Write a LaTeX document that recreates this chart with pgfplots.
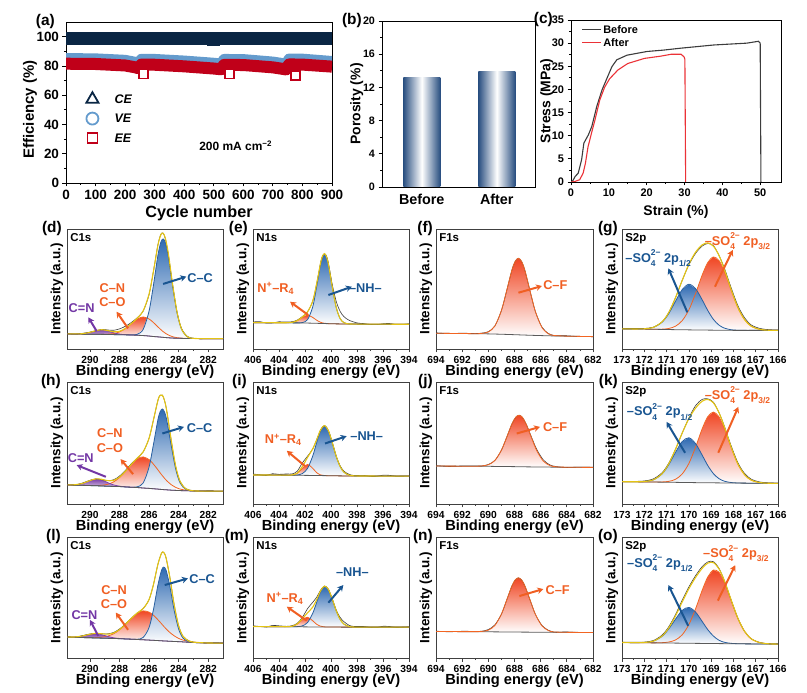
\documentclass[border=0pt]{standalone}
\usepackage{fontspec}
\setmainfont{Liberation Sans}
\usepackage{pgfplots}
\pgfplotsset{compat=1.18}
\usepackage{pgfplotstable}
\usetikzlibrary{arrows.meta}
\newcommand{\fs}[1]{\fontsize{#1}{#1}\selectfont\bfseries}

\definecolor{cblue}{RGB}{45,105,178}
\definecolor{cblueline}{RGB}{40,95,160}
\definecolor{cred}{RGB}{240,70,35}
\definecolor{credline}{RGB}{242,101,34}
\definecolor{cpur}{RGB}{125,65,170}
\definecolor{cenv}{RGB}{228,196,20}
\definecolor{cbg}{RGB}{90,90,90}
\definecolor{craw}{RGB}{60,60,60}
\definecolor{tblue}{RGB}{25,85,145}
\definecolor{torange}{RGB}{240,95,35}
\definecolor{tpur}{RGB}{115,55,165}
\definecolor{ce}{RGB}{10,38,68}
\definecolor{ve}{RGB}{100,155,205}
\definecolor{ee}{RGB}{192,0,25}
\definecolor{barblue}{RGB}{40,78,128}
\definecolor{cbefore}{RGB}{60,60,60}
\definecolor{cafter}{RGB}{235,50,55}

\tikzset{arr/.style={-{Stealth[length=6bp,width=6.5bp]}, line width=2bp},
  lab/.style={font=\fs{12.8}, inner sep=0pt},
  ttl/.style={font=\fs{11.5}, inner sep=0pt, anchor=north west},
  plab/.style={font=\fs{15.5}, inner sep=0pt, anchor=east}}

\pgfplotsset{
 xps/.style={anchor=south west, scale only axis, x dir=reverse, ymin=0, ymax=100, ytick=\empty,
   xtick pos=left, tick align=outside, major tick length=3.5bp, minor tick length=2bp, minor x tick num=1,
   axis line style={line width=0.8bp, draw=black!75}, tick style={line width=0.7bp, draw=black!75},
   tick label style={font=\fs{10.3}},
   xlabel={Binding energy (eV)}, ylabel={Intensity (a.u.)},
   every axis x label/.style={at={([yshift=-22.5bp]axis description cs:0.5,0)}, anchor=center, font=\fs{14.7}},
   every axis y label/.style={at={([xshift=-10bp]axis description cs:0,0.5)}, rotate=90, anchor=center, font=\fs{13.5}},
   /pgf/number format/assume math mode=true, /pgf/number format/1000 sep={}},
 lc/.style={smooth, draw=#1, line width=0.8bp, forget plot},
 bgl/.style={cbg, line width=0.8bp, forget plot},
 rawl/.style={smooth, craw, line width=0.6bp, forget plot},
 envl/.style={smooth, cenv, line width=1.1bp, forget plot},
}
% stacked fill between background and background+component
\newcommand{\bgpath}[1]{\addplot[stack plots=y, draw=none, forget plot] table[x=x,y=bg]{#1};}
\newcommand{\cfl}[3]{%
 \addplot[stack plots=y, draw=none, top color=#3, bottom color=white, forget plot] table[x=x,y=#2]{#1} \closedcycle;
 \addplot[stack plots=y, draw=none, forget plot] table[x=x,y expr=-\thisrow{#2}]{#1};}
\newcommand{\cln}[3]{\addplot[lc=#3] table[x=x,y expr=\thisrow{bg}+\thisrow{#2}]{#1};}
\newcommand{\fin}[2]{%
 \addplot[bgl] table[x=x,y=bg]{#1};
 \addplot[rawl] table[x=x,y expr=#2+\thisrow{r}]{#1};
 \addplot[envl] table[x=x,y expr=#2]{#1};}

% ---------------- data ----------------
\pgfplotstableread{
x bg a b c r
291.5 12.6 0 0 0 0.2
291.0 12.5 0.04 0 0 -0.2
290.5 12.4 0.35 0 0 0.3
290.0 12.3 1.54 0 0 0.2
289.6 12.25 3.03 0.01 0 -0.3
289.2 12.2 3.8 0.06 0 0.2
288.8 12.1 3.03 0.24 0 0.5
288.4 12.0 1.54 0.84 0 1.2
288.0 11.9 0.50 2.36 0 2.0
287.6 11.8 0.10 5.25 0 1.8
287.2 11.7 0.01 9.4 0.07 0.9
286.8 11.45 0 13.5 0.78 0.3
286.4 11.2 0 15.5 5.1 -0.3
286.0 10.8 0 14.2 20.8 -0.5
285.7 10.4 0 11.6 43.1 0
285.4 10.1 0 8.3 68.1 0.5
285.2 9.9 0 6.2 79.2 0.3
285.05 9.7 0 4.8 82 0
284.9 9.55 0 3.6 79.2 -0.4
284.7 9.35 0 2.36 68.1 -0.8
284.4 9.1 0 1.11 43.1 -0.6
284.1 8.95 0 0.47 20.8 0
283.8 8.85 0 0.17 7.6 0.4
283.4 8.75 0 0.04 1.3 0.3
283.0 8.7 0 0 0.14 0.1
282.5 8.65 0 0 0 -0.1
282.0 8.6 0 0 0 0.1
281.0 8.6 0 0 0 0
}\Td
\pgfplotstableread{
x bg a b r
406 22.0 0 0 0.5
405.5 21.97 0 0 0.9
405 21.95 0 0 -0.3
404.5 21.92 0 0 -0.2
404 21.9 0 0 0.8
403.5 21.85 0.03 0 0.6
403 21.8 0.41 0 0.5
402.6 21.75 1.89 0 0.4
402.2 21.7 4.78 0.34 0.2
401.8 21.6 6.5 2.9 0
401.4 21.5 4.78 13.8 0
401.1 21.4 2.55 30.6 0
400.8 21.3 0.95 49.5 0
400.65 21.25 0.51 55.7 0
400.5 21.2 0.24 58 0
400.35 21.15 0.12 55.7 0.5
400.2 21.1 0.05 49.5 1
399.9 21.0 0 30.6 2
399.6 20.95 0 13.8 5
399.3 20.9 0 4.5 6
399.0 20.85 0 1.07 5
398.6 20.8 0 0.1 3
398 20.75 0 0 1
397.5 20.7 0 0 0.5
397 20.7 0 0 -0.2
396.5 20.7 0 0 -0.4
396 20.7 0 0 0.3
395.5 20.67 0 0 0.6
395 20.65 0 0 -0.3
394.5 20.62 0 0 -0.2
394 20.6 0 0 0.4
}\Te
\pgfplotstableread{
x bg a r
694 13.1 0 0.3
693 13.0 0 -0.2
692 12.9 0 0.3
691 12.75 0 0.1
690.5 12.7 0.28 0.3
690 12.6 1.63 0.2
689.5 12.45 6.76 0
689 12.3 19.8 0
688.6 12.15 36.4 0
688.2 12.0 53.7 0
687.95 11.9 61.1 0
687.7 11.8 63.8 0
687.45 11.7 61.1 0
687.2 11.6 53.7 0
686.8 11.45 36.4 0
686.4 11.3 19.8 0
685.9 11.15 6.76 0.3
685.4 11.0 1.63 0.2
685 10.9 0.41 -0.2
684 10.7 0 0.3
683 10.5 0 -0.2
682 10.3 0 0.1
}\Tf
\pgfplotstableread{
x bg a b r
173 16.8 0 0 0.2
172.5 16.7 0 0 0.4
172 16.6 0 0.24 0.3
171.6 16.45 0 1.5 0.2
171.2 16.3 0.24 6.1 0
170.9 16.2 0.9 13.4 0
170.6 16.1 2.9 23.7 0
170.3 16.0 7.6 33.5 0
170.0 15.95 16.6 38 -0.5
169.7 15.85 30.3 34.5 -1
169.4 15.8 45.9 25.1 -1
169.15 15.75 56.3 16.3 -0.5
168.9 15.7 61 9.0 0.5
168.65 15.65 58.1 4.3 0
168.4 15.6 48.7 1.75 1
168.1 15.55 33.4 0.49 1.5
167.8 15.5 19.0 0.11 1.5
167.5 15.5 9.0 0 1.5
167.2 15.5 3.5 0 1
166.8 15.5 0.77 0 0.8
166.4 15.5 0.12 0 0.5
166 15.5 0 0 0.3
}\Tg
\pgfplotstableread{
x bg a b c r
291.5 15.6 0.04 0 0 0.2
291.0 15.45 0.34 0 0 -0.2
290.5 15.3 1.6 0 0 0.3
290.0 15.1 4.04 0.05 0 0.2
289.6 14.95 5.43 0.18 0 0
289.2 14.75 4.92 0.58 0 -0.3
288.8 14.55 3.0 1.59 0 0
288.4 14.4 1.24 3.7 0 0.5
288.0 14.3 0.34 7.4 0 0.8
287.6 14.0 0.06 12.75 0 0.8
287.2 13.75 0 18.7 0 0.5
286.8 13.5 0 23.6 0.57 0
286.4 13.1 0 25.5 4.1 0
286.0 12.8 0 23.6 17.5 0
285.7 12.5 0 20.1 36.5 0
285.4 12.2 0 15.8 57.0 0
285.25 12.0 0 13.5 63.6 0
285.1 11.9 0 11.3 66 0
284.95 11.7 0 9.3 63.6 0
284.8 11.6 0 7.4 57.0 0
284.5 11.35 0 4.5 36.5 -0.5
284.2 11.15 0 2.5 17.5 -0.5
283.9 11.0 0 1.25 6.2 0
283.5 10.85 0 0.45 1.0 0.2
283.0 10.7 0 0.1 0 0.1
282.5 10.6 0 0 0 -0.1
282.0 10.55 0 0 0 0.1
281.0 10.5 0 0 0 0
}\Th
\pgfplotstableread{
x bg a b r
406 23.8 0 0 0.8
405.5 23.77 0 0 0.2
405 23.75 0 0 -0.4
404.5 23.72 0 0 1.1
404 23.7 0 0 0.6
403.4 23.65 0 0 1.0
403 23.6 0.17 0.03 0.8
402.6 23.55 1.53 0.25 1.5
402.2 23.5 5.78 1.46 3
401.8 23.45 9 5.8 1
401.4 23.4 5.78 16.1 0
401.1 23.35 2.31 27.1 0
400.8 23.3 0.56 36.9 0
400.5 23.25 0.08 41 0
400.2 23.2 0 36.9 0
399.9 23.15 0 27.1 0
399.6 23.1 0 16.1 0
399.3 23.05 0 7.8 0.5
399.0 23.0 0 3.05 0.8
398.6 23.0 0 0.64 0.6
398.2 22.95 0 0.1 0.3
397.5 22.95 0 0 0.5
397 22.93 0 0 -0.3
396.5 22.9 0 0 -0.3
396 22.9 0 0 0.7
395.5 22.9 0 0 0.6
395 22.9 0 0 -0.2
394 22.9 0 0 0
}\Ti
\pgfplotstableread{
x bg a r
694 31.1 0 0.3
693 31.05 0 -0.3
692 31.0 0 0.2
691 30.95 0.04 0.3
690.5 30.92 0.26 0
690 30.9 1.3 0.2
689.5 30.8 4.9 0
689 30.75 13.4 0
688.6 30.7 23.9 0
688.2 30.65 34.9 0
687.9 30.6 40.6 0
687.65 30.55 42.2 0
687.4 30.5 40.6 0
687.1 30.45 34.9 0
686.7 30.4 23.9 0.5
686.3 30.35 13.4 1
685.8 30.3 4.9 1
685.3 30.25 1.3 0.5
684.8 30.2 0.26 0.2
684 30.15 0 -0.2
683 30.05 0 0.2
682 30.0 0 0
}\Tj
\pgfplotstableread{
x bg a b r
173 18.3 0 0 0.2
172.5 18.2 0 0 0.3
172 18.1 0 0.31 0.5
171.6 18.0 0 1.74 0.8
171.2 17.9 0.19 6.8 0.8
170.9 17.8 0.76 14.5 0.5
170.6 17.75 2.5 24.6 0
170.3 17.65 6.95 33.5 0
170.0 17.6 15.6 36.7 0.5
169.7 17.5 29 32.1 2
169.4 17.45 44.3 22.5 1.5
169.15 17.4 54.2 14.1 0.5
168.9 17.35 58 7.6 0.5
168.65 17.3 54.2 3.5 0
168.4 17.25 44.3 1.4 0.5
168.1 17.2 29 0.38 1
167.8 17.15 15.6 0.08 1
167.5 17.1 6.95 0 1
167.2 17.05 2.5 0 0.8
166.8 17.0 0.5 0 0.5
166.4 16.95 0.05 0 0.3
166 16.9 0 0 0.2
}\Tk
\pgfplotstableread{
x bg a b c r
291.5 17.3 0.04 0 0 0.2
291.0 17.1 0.31 0 0 -0.2
290.5 16.9 1.29 0.02 0 0.3
290.0 16.7 2.87 0.09 0 0.2
289.6 16.55 3.5 0.28 0 0
289.2 16.4 2.87 0.76 0 0
288.8 16.25 1.59 1.85 0 0.3
288.4 16.1 0.6 3.9 0 0.5
288.0 16.0 0.15 7.3 0 0.5
287.6 15.75 0.02 12 0 0.3
287.2 15.55 0 17.2 0 0
286.8 15.3 0 21.7 0.2 0
286.4 15.05 0 23.9 1.9 0
286.0 14.8 0 23.1 10.4 0
285.7 14.6 0 20.7 25.6 0
285.4 14.4 0 17.2 45.9 0
285.15 14.2 0 14.0 58.6 0
285.0 14.1 0 12 61 0
284.85 14.0 0 10.1 58.6 0
284.6 13.85 0 7.3 45.9 0
284.3 13.65 0 4.7 25.6 0
284.0 13.5 0 2.7 10.4 0
283.7 13.3 0 1.5 3.1 0
283.3 13.0 0 0.6 0.35 0.2
283.0 12.8 0 0.28 0 0.1
282.5 12.6 0 0.07 0 -0.1
282.0 12.4 0 0 0 0.1
281.0 12.3 0 0 0 0
}\Tl
\pgfplotstableread{
x bg a b r
406 26.0 0 0 0.6
405.5 25.97 0 0 0.1
405 25.95 0 0 -0.4
404.5 25.92 0 0 1.0
404 25.9 0 0 0.7
403.4 25.85 0.03 0 0.3
403 25.8 0.39 0 0.5
402.6 25.8 2.2 0.12 0.5
402.2 25.75 6.0 0.81 1
401.8 25.7 7.95 3.7 3.5
401.4 25.7 5.0 11.4 4
401.1 25.65 2.2 20.4 2
400.8 25.65 0.64 29.3 0.5
400.5 25.6 0.12 33.7 0
400.2 25.6 0 31.1 0
399.9 25.6 0 23.0 0
399.6 25.55 0 13.6 0.5
399.3 25.55 0 6.5 1.5
399.0 25.5 0 2.5 2
398.6 25.5 0 0.48 1
398.2 25.5 0 0.06 0.5
397.5 25.5 0 0 0.5
397 25.5 0 0 -0.2
396.5 25.5 0 0 -0.4
396 25.5 0 0 0.7
395.5 25.5 0 0 0.5
395 25.5 0 0 -0.3
394 25.5 0 0 0.2
}\Tm
\pgfplotstableread{
x bg a r
694 21.9 0 0.3
693 21.85 0 -0.2
692 21.8 0 0.3
691 21.75 0.04 0.2
690.5 21.7 0.26 0.2
690 21.65 1.37 0.5
689.5 21.6 5.3 0.5
689 21.55 14.7 0
688.6 21.5 26.3 0
688.2 21.5 38.0 0
687.95 21.45 43.0 0
687.7 21.45 44.8 0
687.45 21.4 43.0 0
687.2 21.4 38.0 0
686.8 21.35 26.3 0
686.4 21.3 14.7 0
685.9 21.3 5.3 0.3
685.4 21.25 1.37 0.2
685 21.2 0.36 -0.2
684 21.2 0 0.3
683 21.15 0 -0.2
682 21.1 0 0.1
}\Tn
\pgfplotstableread{
x bg a b r
173 12.8 0 0 0.2
172.5 12.7 0 0 0.3
172 12.6 0 0.25 0.3
171.6 12.5 0 1.4 0.5
171.2 12.45 0.22 5.5 0.8
170.9 12.4 0.81 11.7 1
170.6 12.3 2.6 19.8 1.2
170.3 12.25 6.9 27.1 1.5
170.0 12.2 15.4 29.6 1.5
169.7 12.1 28.5 25.9 1.5
169.4 12.05 44.0 18.1 1.5
169.15 12.0 55.0 11.4 1
168.9 11.95 60.7 6.2 0.8
168.65 11.9 59.0 2.8 0.5
168.4 11.85 50.7 1.1 0
168.1 11.8 35.7 0.3 0
167.8 11.75 21.0 0.07 0
167.5 11.7 10.3 0 0
167.2 11.65 4.2 0 0
166.8 11.6 0.97 0 0.2
166.4 11.55 0.16 0 0.1
166 11.5 0 0 0.1
}\To

\newcommand{\ssz}{\fontsize{8.5}{8.5}\selectfont}
\newcommand{\SOs}{\rlap{\raisebox{-0.33em}{\ssz 4}}\raisebox{0.52em}{\ssz 2−}}
\newcommand{\SOh}{–SO\SOs\ 2p\raisebox{-0.33em}{\ssz 1/2}}
\newcommand{\SOt}{–SO\SOs\ 2p\raisebox{-0.33em}{\ssz 3/2}}
\newcommand{\NR}{N\textsuperscript{+}–R\textsubscript{4}}

\begin{document}
\begin{tikzpicture}
\useasboundingbox (0,0) rectangle (807bp,693bp);

% ================= (a) =================
\begin{axis}[name=a, at={(66bp,510bp)}, anchor=south west, scale only axis, width=266bp, height=161bp,
  xmin=0, xmax=900, ymin=0, ymax=110, xtick={0,100,...,900}, ytick={0,20,...,100},
  minor x tick num=1, minor y tick num=1, tick align=outside, xtick pos=left, ytick pos=left,
  major tick length=3.5bp, minor tick length=2bp, axis line style={line width=0.9bp},
  tick style={line width=0.8bp, black}, tick label style={font=\fs{13.5}},
  /pgf/number format/assume math mode=true,
  xlabel={Cycle number}, ylabel={Efficiency (\%)},
  every axis x label/.style={at={([yshift=-30bp]axis description cs:0.5,0)}, anchor=center, font=\fs{16.3}},
  every axis y label/.style={at={([xshift=-36bp,yshift=-7bp]axis description cs:0,0.5)}, rotate=90, anchor=center, font=\fs{15}},
  legend image code/.code={\path (-9bp,0bp) (21bp,0bp); \draw[#1] plot coordinates {(0bp,0bp)};},
  legend style={at={(axis description cs:0.064,0.565)}, anchor=north west, draw=none, fill=none, inner sep=0pt,
     row sep=8bp, font=\fs{12.5}\itshape, nodes={inner sep=1bp, text depth=0pt}},
  legend cell align=left]
\addlegendimage{only marks, mark=triangle, mark size=7bp, ce, mark options={solid, line width=1.8bp}}
\addlegendentry{CE}
\addlegendimage{only marks, mark=o, mark size=6bp, ve, mark options={solid, line width=1.8bp}}
\addlegendentry{VE}
\addlegendimage{only marks, mark=square, mark size=5bp, ee, mark options={solid, line width=1.8bp}}
\addlegendentry{EE}
\addplot[ce, line width=13bp, forget plot] coordinates {(0,98.8) (900,98.8)};
\addplot[ce, line width=6bp, forget plot] coordinates {(478,95.6) (522,95.6)};
\addplot[ve, line width=11bp, line join=round, forget plot] coordinates {(0,85.0) (100,84.8) (200,83.8) (235,82.4) (245,81.8) (255,84.5) (300,84.4) (400,83.3) (500,81.8) (525,81.3) (535,84.4) (600,84.3) (700,82.6) (745,81.2) (755,84.7) (800,84.6) (900,83.0)};
\addplot[only marks, mark=square*, mark size=4.5bp, ee, mark options={fill=white, line width=1.6bp}, forget plot] coordinates {(262,74.6) (554,74.6) (777,73.3)};
\addplot[ee, line width=12bp, line join=round, forget plot] coordinates {(0,81.5) (100,81.3) (200,80.3) (235,79.0) (245,78.4) (255,80.9) (300,80.8) (400,79.7) (500,78.2) (525,77.7) (535,80.7) (600,80.6) (700,79.0) (745,77.6) (755,81.0) (800,80.9) (900,79.5)};
\node[font=\fs{12}] at (axis cs:574,25.5) {200 mA cm\textsuperscript{−2}};
\end{axis}
\node[plab] at ([xshift=-11bp]a.north west) {(a)};

% ================= (b) =================
\begin{axis}[name=b, at={(382bp,506bp)}, anchor=south west, scale only axis, width=153bp, height=166bp,
  xmin=-0.53, xmax=1.51, ymin=0, ymax=20, xtick={0,1}, xticklabels={Before,After}, ytick={0,4,...,20},
  minor y tick num=1, tick align=outside, ytick pos=left, xtick pos=left, xtick style={draw=none},
  major tick length=3.5bp, minor tick length=2bp, axis line style={line width=0.9bp}, tick style={line width=0.8bp, black},
  y tick label style={font=\fs{10.8}}, x tick label style={font=\fs{14.4}},
  /pgf/number format/assume math mode=true, ylabel={Porosity (\%)},
  every axis y label/.style={at={([xshift=-25.3bp]axis description cs:0,0.5)}, rotate=90, anchor=center, font=\fs{14}}]
\addplot[ybar, bar width=37bp, draw=none, left color=barblue, right color=barblue, middle color=white, forget plot] coordinates {(0,13.2)};
\addplot[ybar, bar width=37bp, draw=none, left color=barblue, right color=barblue, middle color=white, forget plot] coordinates {(1,13.95)};
\end{axis}
\node[plab] at ([xshift=-20bp]b.north west) {(b)};

% ================= (c) =================
\begin{axis}[name=c, at={(571bp,511bp)}, anchor=south west, scale only axis, width=210bp, height=162bp,
  xmin=0, xmax=55.5, ymin=0, ymax=35, xtick={0,10,...,50}, ytick={0,5,...,35},
  minor x tick num=1, minor y tick num=1, tick align=outside, xtick pos=left, ytick pos=left,
  major tick length=3.5bp, minor tick length=2bp, axis line style={line width=0.9bp}, tick style={line width=0.8bp, black},
  tick label style={font=\fs{11}}, /pgf/number format/assume math mode=true,
  xlabel={Strain (\%)}, ylabel={Stress (MPa)},
  every axis x label/.style={at={([yshift=-29.7bp]axis description cs:0.5,0)}, anchor=center, font=\fs{14}},
  every axis y label/.style={at={([xshift=-24.3bp]axis description cs:0,0.5)}, rotate=90, anchor=center, font=\fs{14}},
  legend image code/.code={\draw[#1] (0bp,0bp) -- (19bp,0bp);},
  legend style={at={(axis description cs:0.05,0.977)}, anchor=north west, draw=none, fill=none, inner sep=0pt,
     row sep=2bp, font=\fs{11}, nodes={inner sep=1.5bp, text depth=0pt}},
  legend cell align=left]
\addplot[cbefore, line width=1.1bp] coordinates {(0,0) (0.5,0.3) (1.1,1.2) (1.9,1.9) (2.8,4.8) (3.4,8.4) (4.6,10.2) (5.5,12.0) (6.8,16.3) (8.2,19.9) (9.5,22.4) (10.8,24.9) (12.1,26.4) (14.8,27.4) (20.1,28.2) (24.5,28.5) (28.9,28.9) (37.7,29.6) (46.5,30.0) (49.5,30.4) (50.0,30.0) (50.1,15) (50.2,0)};
\addlegendentry{Before}
\addplot[cafter, line width=1.1bp] coordinates {(0,0) (1.0,0.1) (2.3,0.5) (3.2,1.9) (3.8,4.0) (4.5,7.6) (5.4,10.5) (6.3,13.3) (7.6,17.7) (8.9,20.5) (10.2,22.3) (12.4,24.2) (15.0,25.6) (19.4,26.7) (23.8,27.2) (26.5,27.6) (29.1,27.6) (29.9,27.0) (30.1,26.5) (30.2,13) (30.3,0)};
\addlegendentry{After}
\end{axis}
\node[plab] at ([xshift=-18bp]c.north west) {(c)};

% ================= row 1 =================
\begin{axis}[xps, name=d, at={(67bp,344bp)}, width=156bp, height=120bp, xmin=281, xmax=291.55, xtick={282,284,...,290}]
\bgpath{\Td}
\cfl{\Td}{b}{cred}
\cfl{\Td}{c}{cblue}
\cfl{\Td}{a}{cpur}
\cln{\Td}{b}{credline}
\cln{\Td}{c}{cblueline}
\cln{\Td}{a}{cpur}
\fin{\Td}{\thisrow{bg}+\thisrow{a}+\thisrow{b}+\thisrow{c}}
\node[ttl] at (rel axis cs:0.02,0.967) {C1s};
\node[lab, text=tblue] at (axis cs:282.55,58.9) {C–C};
\draw[arr, tblue] (axis cs:285.05,54.2) -- (axis cs:283.48,60.3);
\node[lab, text=torange] at (axis cs:288.48,50.6) {C–N};
\node[lab, text=torange] at (axis cs:288.48,39.4) {C–O};
\draw[arr, torange] (axis cs:287.42,17.2) -- (axis cs:288.2,31.1);
\node[lab, text=tpur] at (axis cs:290.56,33.9) {C=N};
\draw[arr, tpur] (axis cs:289.55,15) -- (axis cs:290.11,26.4);
\end{axis}
\node[plab] at ([xshift=-5bp]d.north west) {(d)};

\begin{axis}[xps, name=e, at={(253bp,344bp)}, width=156bp, height=120bp, xmin=394, xmax=406, xtick={394,396,...,406}]
\bgpath{\Te}
\cfl{\Te}{a}{cred}
\cfl{\Te}{b}{cblue}
\cln{\Te}{a}{credline}
\cln{\Te}{b}{cblueline}
\fin{\Te}{\thisrow{bg}+\thisrow{a}+\thisrow{b}}
\node[ttl] at (rel axis cs:0.02,0.967) {N1s};
\node[lab, text=tblue] at (axis cs:397.35,50.6) {–NH–};
\draw[arr, tblue] (axis cs:400.2,45) -- (axis cs:398.4,51.9);
\node[lab, text=torange] at (axis cs:404.25,50.6) {\NR};
\draw[arr, torange] (axis cs:401.75,28.3) -- (axis cs:403.15,39.4);
\end{axis}
\node[plab] at ([xshift=-5bp]e.north west) {(e)};

\begin{axis}[xps, name=f, at={(436bp,344bp)}, width=157bp, height=120bp, xmin=682, xmax=694, xtick={682,684,...,694}]
\bgpath{\Tf}
\cfl{\Tf}{a}{cred}
\addplot[bgl] table[x=x,y=bg]{\Tf};
\addplot[rawl] table[x=x,y expr=\thisrow{bg}+\thisrow{a}+\thisrow{r}]{\Tf};
\cln{\Tf}{a}{credline}
\node[ttl] at (rel axis cs:0.02,0.967) {F1s};
\node[lab, text=torange] at (axis cs:684.88,53.3) {C–F};
\draw[arr, torange] (axis cs:687.7,46.9) -- (axis cs:685.9,52.5);
\end{axis}
\node[plab] at ([xshift=-3bp]f.north west) {(f)};

\begin{axis}[xps, name=g, at={(622bp,344bp)}, width=156bp, height=120bp, xmin=166, xmax=173, xtick={166,...,173}]
\bgpath{\Tg}
\cfl{\Tg}{a}{cred}
\cfl{\Tg}{b}{cblue}
\cln{\Tg}{a}{credline}
\cln{\Tg}{b}{cblueline}
\fin{\Tg}{\thisrow{bg}+\thisrow{a}+\thisrow{b}}
\node[ttl] at (rel axis cs:0.02,0.967) {S2p};
\node[lab, text=torange] at (axis cs:167.82,90) {\SOt};
\draw[arr, torange] (axis cs:168.83,51.9) -- (axis cs:168.03,82.5);
\node[lab, text=tblue] at (axis cs:171.38,75.6) {\SOh};
\draw[arr, tblue] (axis cs:170.07,30.6) -- (axis cs:170.92,67.2);
\end{axis}
\node[plab] at ([xshift=-4bp]g.north west) {(g)};

% ================= row 2 =================
\begin{axis}[xps, name=h, at={(67bp,189bp)}, width=156bp, height=122bp, xmin=281, xmax=291.55, xtick={282,284,...,290}]
\bgpath{\Th}
\cfl{\Th}{b}{cred}
\cfl{\Th}{c}{cblue}
\cfl{\Th}{a}{cpur}
\cln{\Th}{b}{credline}
\cln{\Th}{c}{cblueline}
\cln{\Th}{a}{cpur}
\fin{\Th}{\thisrow{bg}+\thisrow{a}+\thisrow{b}+\thisrow{c}}
\node[ttl] at (rel axis cs:0.02,0.967) {C1s};
\node[lab, text=tblue] at (axis cs:282.58,62.4) {C–C};
\draw[arr, tblue] (axis cs:285.1,57.8) -- (axis cs:283.64,63.2);
\node[lab, text=torange] at (axis cs:288.65,58.3) {C–N};
\node[lab, text=torange] at (axis cs:288.65,45.5) {C–O};
\draw[arr, torange] (axis cs:287.08,24.5) -- (axis cs:287.93,36.8);
\node[lab, text=tpur] at (axis cs:290.62,37.4) {C=N};
\draw[arr, tpur] (axis cs:288.92,22.3) -- (axis cs:290.9,31.9);
\end{axis}
\node[plab] at ([xshift=-6bp]h.north west) {(h)};

\begin{axis}[xps, name=i, at={(253bp,189bp)}, width=156bp, height=122bp, xmin=394, xmax=406, xtick={394,396,...,406}]
\bgpath{\Ti}
\cfl{\Ti}{a}{cred}
\cfl{\Ti}{b}{cblue}
\cln{\Ti}{a}{credline}
\cln{\Ti}{b}{cblueline}
\fin{\Ti}{\thisrow{bg}+\thisrow{a}+\thisrow{b}}
\node[ttl] at (rel axis cs:0.02,0.967) {N1s};
\node[lab, text=tblue] at (axis cs:397.25,55.6) {–NH–};
\draw[arr, tblue] (axis cs:400.46,49.6) -- (axis cs:398.8,55.6);
\node[lab, text=torange] at (axis cs:403.67,52.3) {\NR};
\draw[arr, torange] (axis cs:402.0,31.1) -- (axis cs:403.4,43.6);
\end{axis}
\node[plab] at ([xshift=-6bp]i.north west) {(i)};

\begin{axis}[xps, name=j, at={(436bp,189bp)}, width=157bp, height=122bp, xmin=682, xmax=694, xtick={682,684,...,694}]
\bgpath{\Tj}
\cfl{\Tj}{a}{cred}
\addplot[bgl] table[x=x,y=bg]{\Tj};
\addplot[rawl] table[x=x,y expr=\thisrow{bg}+\thisrow{a}+\thisrow{r}]{\Tj};
\cln{\Tj}{a}{credline}
\node[ttl] at (rel axis cs:0.02,0.967) {F1s};
\node[lab, text=torange] at (axis cs:684.9,63.2) {C–F};
\draw[arr, torange] (axis cs:687.83,57.8) -- (axis cs:686.05,63.2);
\end{axis}
\node[plab] at ([xshift=-3bp]j.north west) {(j)};

\begin{axis}[xps, name=k, at={(622bp,189bp)}, width=156bp, height=122bp, xmin=166, xmax=173, xtick={166,...,173}]
\bgpath{\Tk}
\cfl{\Tk}{a}{cred}
\cfl{\Tk}{b}{cblue}
\cln{\Tk}{a}{credline}
\cln{\Tk}{b}{cblueline}
\fin{\Tk}{\thisrow{bg}+\thisrow{a}+\thisrow{b}}
\node[ttl] at (rel axis cs:0.02,0.967) {S2p};
\node[lab, text=torange] at (axis cs:167.82,89.1) {\SOt};
\draw[arr, torange] (axis cs:168.68,42) -- (axis cs:167.78,79.6);
\node[lab, text=tblue] at (axis cs:171.31,75.5) {\SOh};
\draw[arr, tblue] (axis cs:170.17,42) -- (axis cs:171.0,67.3);
\end{axis}
\node[plab] at ([xshift=-4bp]k.north west) {(k)};

% ================= row 3 =================
\begin{axis}[xps, name=l, at={(67bp,35bp)}, width=156bp, height=121bp, xmin=281, xmax=291.55, xtick={282,284,...,290}]
\bgpath{\Tl}
\cfl{\Tl}{b}{cred}
\cfl{\Tl}{c}{cblue}
\cfl{\Tl}{a}{cpur}
\cln{\Tl}{b}{credline}
\cln{\Tl}{c}{cblueline}
\cln{\Tl}{a}{cpur}
\fin{\Tl}{\thisrow{bg}+\thisrow{a}+\thisrow{b}+\thisrow{c}}
\node[ttl] at (rel axis cs:0.02,0.967) {C1s};
\node[lab, text=tblue] at (axis cs:282.41,65) {C–C};
\draw[arr, tblue] (axis cs:284.94,60.3) -- (axis cs:283.37,65.8);
\node[lab, text=torange] at (axis cs:288.37,56.2) {C–N};
\node[lab, text=torange] at (axis cs:288.37,44.7) {C–O};
\draw[arr, torange] (axis cs:287.42,23.3) -- (axis cs:288.25,37.5);
\node[lab, text=tpur] at (axis cs:290.37,35.6) {C=N};
\draw[arr, tpur] (axis cs:289.44,18.3) -- (axis cs:290,31.5);
\end{axis}
\node[plab] at ([xshift=-6bp]l.north west) {(l)};

\begin{axis}[xps, name=m, at={(253bp,35bp)}, width=156bp, height=121bp, xmin=394, xmax=406, xtick={394,396,...,406}]
\bgpath{\Tm}
\cfl{\Tm}{a}{cred}
\cfl{\Tm}{b}{cblue}
\cln{\Tm}{a}{credline}
\cln{\Tm}{b}{cblueline}
\fin{\Tm}{\thisrow{bg}+\thisrow{a}+\thisrow{b}}
\node[ttl] at (rel axis cs:0.02,0.967) {N1s};
\node[lab, text=tblue] at (axis cs:398.35,71.2) {–NH–};
\draw[arr, tblue] (axis cs:400.2,45.7) -- (axis cs:399.05,60.3);
\node[lab, text=torange] at (axis cs:403.54,49.3) {\NR};
\draw[arr, torange] (axis cs:401.87,30.9) -- (axis cs:403.4,42.4);
\end{axis}
\node[plab] at ([xshift=-4bp]m.north west) {(m)};

\begin{axis}[xps, name=n, at={(436bp,35bp)}, width=157bp, height=121bp, xmin=682, xmax=694, xtick={682,684,...,694}]
\bgpath{\Tn}
\cfl{\Tn}{a}{cred}
\addplot[bgl] table[x=x,y=bg]{\Tn};
\addplot[rawl] table[x=x,y expr=\thisrow{bg}+\thisrow{a}+\thisrow{r}]{\Tn};
\cln{\Tn}{a}{credline}
\node[ttl] at (rel axis cs:0.02,0.967) {F1s};
\node[lab, text=torange] at (axis cs:684.7,56.2) {C–F};
\draw[arr, torange] (axis cs:687.63,51.2) -- (axis cs:685.8,57);
\end{axis}
\node[plab] at ([xshift=-3bp]n.north west) {(n)};

\begin{axis}[xps, name=o, at={(622bp,35bp)}, width=156bp, height=121bp, xmin=166, xmax=173, xtick={166,...,173}]
\bgpath{\To}
\cfl{\To}{a}{cred}
\cfl{\To}{b}{cblue}
\cln{\To}{a}{credline}
\cln{\To}{b}{cblueline}
\fin{\To}{\thisrow{bg}+\thisrow{a}+\thisrow{b}}
\node[ttl] at (rel axis cs:0.02,0.967) {S2p};
\node[lab, text=torange] at (axis cs:167.89,86.3) {\SOt};
\draw[arr, torange] (axis cs:168.7,47.4) -- (axis cs:167.92,76.7);
\node[lab, text=tblue] at (axis cs:171.3,78.1) {\SOh};
\draw[arr, tblue] (axis cs:170.03,26.6) -- (axis cs:170.92,60.3);
\end{axis}
\node[plab] at ([xshift=-4bp]o.north west) {(o)};

\end{tikzpicture}
\end{document}
